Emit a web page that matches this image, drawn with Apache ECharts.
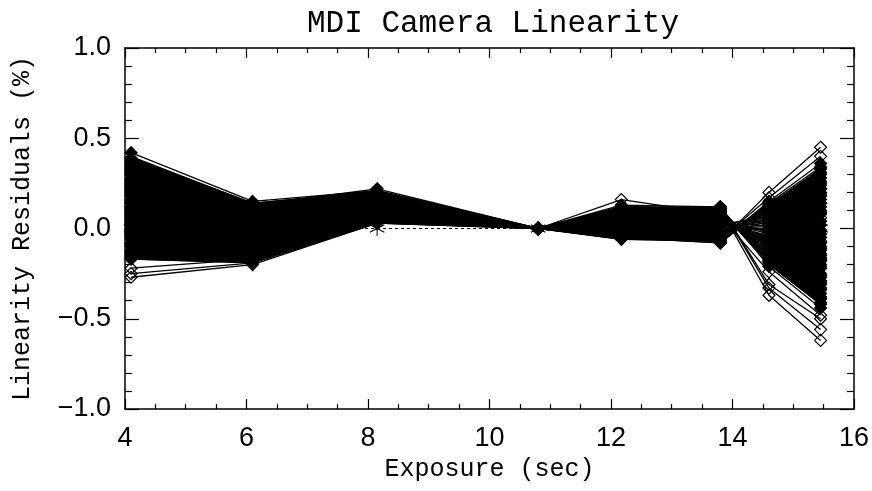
<!DOCTYPE html>
<html>
<head>
<meta charset="utf-8">
<script src="https://cdn.jsdelivr.net/npm/echarts@6/dist/echarts.min.js"></script>
<style>html,body{margin:0;padding:0;background:#fff}#c{width:872px;height:491px}</style>
</head>
<body>
<div id="c"></div>
<script>
// Exposure times (sec) where residuals were measured
const exposures = [4.1, 6.1, 8.15, 10.8, 12.17, 13.8, 14.6, 15.45];

// Residual curves (%) forming the dense bundle, one value per exposure
const coreCurves = [
  [0.42, 0.15, 0.21, 0, 0.05, 0.02, 0.06, 0.12],
  [0.39, 0.14, 0.20, 0, 0.09, 0.07, -0.08, -0.17],
  [0.38, 0.13, 0.22, 0, 0.08, 0.10, -0.15, -0.30],
  [0.37, 0.12, 0.21, 0, 0.01, -0.04, 0.10, 0.22],
  [0.36, 0.12, 0.20, 0, 0.12, 0.11, -0.18, -0.36],
  [0.35, 0.11, 0.19, 0, 0.06, 0.05, -0.05, -0.10],
  [0.34, 0.11, 0.19, 0, 0.03, -0.05, 0.12, 0.25],
  [0.33, 0.11, 0.20, 0, 0.04, 0.02, 0.07, 0.14],
  [0.32, 0.10, 0.20, 0, 0.10, 0.08, -0.10, -0.22],
  [0.31, 0.10, 0.18, 0, 0.11, 0.10, -0.16, -0.34],
  [0.30, 0.09, 0.18, 0, -0.02, -0.06, 0.14, 0.30],
  [0.28, 0.08, 0.19, 0, 0.06, 0.04, -0.02, -0.05],
  [0.27, 0.08, 0.17, 0, -0.01, -0.05, 0.11, 0.26],
  [0.26, 0.07, 0.17, 0, 0.13, 0.12, -0.21, -0.44],
  [0.24, 0.06, 0.16, 0, 0.00, -0.03, 0.09, 0.20],
  [0.23, 0.06, 0.16, 0, 0.08, 0.06, -0.12, -0.26],
  [0.22, 0.05, 0.18, 0, 0.07, 0.06, -0.06, -0.12],
  [0.21, 0.05, 0.17, 0, -0.03, -0.05, 0.13, 0.31],
  [0.20, 0.04, 0.15, 0, 0.04, 0.01, 0.03, 0.08],
  [0.19, 0.04, 0.15, 0, 0.03, 0.00, 0.02, 0.04],
  [0.18, 0.03, 0.14, 0, -0.04, -0.07, 0.15, 0.36],
  [0.16, 0.02, 0.16, 0, 0.09, 0.09, -0.13, -0.27],
  [0.15, 0.02, 0.14, 0, 0.10, 0.09, -0.15, -0.31],
  [0.14, 0.01, 0.13, 0, 0.02, -0.01, 0.05, 0.10],
  [0.12, 0.00, 0.12, 0, 0.11, 0.10, -0.17, -0.38],
  [0.11, 0.00, 0.13, 0, -0.02, -0.05, 0.09, 0.19],
  [0.10, -0.01, 0.14, 0, -0.05, -0.08, 0.13, 0.33],
  [0.09, -0.01, 0.13, 0, 0.11, 0.11, -0.18, -0.39],
  [0.08, -0.02, 0.11, 0, 0.05, 0.03, -0.04, -0.08],
  [0.07, -0.02, 0.12, 0, 0.05, 0.04, -0.05, -0.11],
  [0.06, -0.03, 0.10, 0, 0.08, 0.07, -0.09, -0.20],
  [0.04, -0.04, 0.12, 0, 0.01, -0.02, 0.07, 0.16],
  [0.03, -0.04, 0.10, 0, 0.12, 0.10, -0.20, -0.42],
  [0.02, -0.05, 0.09, 0, -0.03, -0.04, 0.10, 0.24],
  [0.00, -0.06, 0.08, 0, 0.06, 0.05, -0.07, -0.16],
  [-0.01, -0.06, 0.09, 0, 0.00, -0.03, 0.04, 0.09],
  [-0.02, -0.07, 0.10, 0, 0.12, 0.11, -0.19, -0.41],
  [-0.03, -0.08, 0.08, 0, 0.03, 0.03, -0.06, -0.14],
  [-0.04, -0.08, 0.07, 0, 0.03, 0.00, 0.01, 0.02],
  [-0.05, -0.09, 0.07, 0, 0.07, 0.05, -0.10, -0.21],
  [-0.06, -0.10, 0.06, 0, -0.06, -0.07, 0.12, 0.28],
  [-0.08, -0.11, 0.08, 0, 0.09, 0.08, -0.11, -0.25],
  [-0.09, -0.12, 0.06, 0, -0.05, -0.08, 0.14, 0.34],
  [-0.10, -0.13, 0.05, 0, 0.04, 0.02, -0.01, -0.03],
  [-0.12, -0.14, 0.04, 0, 0.00, -0.05, 0.11, 0.22],
  [-0.13, -0.15, 0.05, 0, 0.09, 0.08, -0.12, -0.29],
  [-0.14, -0.16, 0.05, 0, 0.07, 0.06, -0.08, -0.18],
  [-0.15, -0.17, 0.04, 0, 0.02, -0.01, 0.00, -0.01],
  [-0.16, -0.18, 0.04, 0, 0.10, 0.09, -0.14, -0.33],
  [-0.17, -0.19, 0.03, 0, -0.04, -0.06, 0.08, 0.18]
];

// Outlying curves whose open diamonds stand clear of the bundle
const outlierCurves = [
  [-0.22, -0.17, 0.05, 0, 0.02, 0.01, 0.04, 0.06],
  [-0.25, -0.19, 0.04, 0, 0.05, 0.04, -0.03, -0.07],
  [-0.27, -0.20, 0.03, 0, -0.02, -0.03, 0.06, 0.14],
  [0.15, 0.05, 0.17, 0, 0.16, 0.08, -0.09, -0.15],
  [0.05, -0.02, 0.12, 0, -0.05, -0.07, 0.20, 0.45],
  [0.10, 0.01, 0.15, 0, -0.03, -0.06, 0.17, 0.40],
  [0.20, 0.05, 0.17, 0, 0.10, 0.12, -0.31, -0.50],
  [0.25, 0.08, 0.19, 0, 0.12, 0.12, -0.33, -0.56],
  [0.30, 0.10, 0.20, 0, 0.11, 0.11, -0.37, -0.62],
  [0.02, -0.04, 0.10, 0, 0.08, 0.07, -0.24, -0.48]
];

// Dense core of the curve bundle (upper / lower edges), per exposure
const coreUpper = [0.40, 0.14, 0.21, 0, 0.12, 0.11, 0.13, 0.33];
const coreLower = [-0.17, -0.19, 0.03, 0, -0.06, -0.07, -0.20, -0.42];
// the core is continuous over these index ranges (gap through the crossing zone)
const coreSegments = [[0, 5], [6, 7]];

// Reference (ideal) line
const referenceLine = [0, 0, 0, 0, 0, 0, 0, 0];

// Axis ticks
const xTicks = [4, 6, 8, 10, 12, 14, 16];
const yTicks = [-1.0, -0.5, 0.0, 0.5, 1.0];

const asterisk = 'path://M-0.06,1L0.06,1L0.06,-1L-0.06,-1Z M0.836,0.552L0.896,0.448L-0.836,-0.552L-0.896,-0.448Z M0.896,-0.448L0.836,-0.552L-0.896,0.448L-0.836,0.552Z';

const chart = echarts.init(document.getElementById('c'), null, {renderer: 'canvas'});

const series = [];
series.push({
  type: 'custom',
  xAxisIndex: 0, yAxisIndex: 0,
  silent: true,
  z: 1,
  data: [0],
  renderItem: function (params, api) {
    if (params.dataIndex !== 0) return;
    const children = coreSegments.map(function (seg) {
      const pts = [];
      for (let i = seg[0]; i <= seg[1]; i++) pts.push(api.coord([exposures[i], coreUpper[i]]));
      for (let i = seg[1]; i >= seg[0]; i--) pts.push(api.coord([exposures[i], coreLower[i]]));
      return {type: 'polygon', shape: {points: pts}, style: {fill: '#000', stroke: '#000', lineWidth: 1}};
    });
    return {type: 'group', children: children};
  }
});

function curveSeries(c, filled) {
  return {
    type: 'line',
    data: exposures.map(function (x, i) { return [x, c[i]]; }),
    symbol: 'diamond',
    symbolSize: 12,
    showSymbol: true,
    z: 2,
    lineStyle: {color: '#000', width: 1.3},
    itemStyle: {color: filled ? '#000' : 'rgba(255,255,255,0)', borderColor: '#000', borderWidth: 1.2},
    emphasis: {disabled: true},
    silent: true
  };
}
coreCurves.forEach(function (c) { series.push(curveSeries(c, true)); });
outlierCurves.forEach(function (c) { series.push(curveSeries(c, false)); });

series.push({
  type: 'line',
  data: exposures.map(function (x, i) { return [x, referenceLine[i]]; }),
  symbol: asterisk,
  symbolSize: 15,
  z: 3,
  lineStyle: {color: '#000', width: 1.2, type: [3, 3]},
  itemStyle: {color: '#000'},
  emphasis: {disabled: true},
  silent: true
});

const labelFont = {fontFamily: 'Liberation Sans', fontSize: 27, color: '#000'};
const nameFont = {fontFamily: 'Liberation Mono', fontSize: 25, color: '#000'};

function fmt(v) {
  return v.toFixed(1).replace('-', '\u2212');
}

chart.setOption({
  animation: false,
  backgroundColor: '#fff',
  title: {
    text: 'MDI Camera Linearity',
    left: 488, top: 3, textAlign: 'center',
    textStyle: {fontFamily: 'Liberation Mono', fontSize: 31, fontWeight: 'normal', color: '#000'}
  },
  grid: {left: 125, right: 17, top: 48, bottom: 82, containLabel: false},
  xAxis: [{
    type: 'value', min: xTicks[0], max: xTicks[xTicks.length - 1], interval: 2,
    position: 'bottom',
    name: 'Exposure (sec)', nameLocation: 'middle', nameGap: 48, nameTextStyle: nameFont,
    axisLine: {show: true, onZero: false, lineStyle: {color: '#000', width: 1.5}},
    axisTick: {show: true, inside: true, length: 10, lineStyle: {color: '#000', width: 1.2}},
    minorTick: {show: true, splitNumber: 4, length: 5, lineStyle: {color: '#000', width: 1.2}},
    axisLabel: Object.assign({margin: 16, formatter: function (v) { return String(v); }}, labelFont),
    splitLine: {show: false}
  }, {
    type: 'value', min: xTicks[0], max: xTicks[xTicks.length - 1], interval: 2,
    position: 'top',
    axisLine: {show: true, onZero: false, lineStyle: {color: '#000', width: 1.5}},
    axisTick: {show: true, inside: true, length: 10, lineStyle: {color: '#000', width: 1.2}},
    minorTick: {show: true, splitNumber: 4, length: 5, lineStyle: {color: '#000', width: 1.2}},
    axisLabel: {show: false},
    splitLine: {show: false}
  }],
  yAxis: [{
    type: 'value', min: yTicks[0], max: yTicks[yTicks.length - 1], interval: 0.5,
    position: 'left',
    name: 'Linearity Residuals (%)', nameLocation: 'middle', nameGap: 90, nameRotate: 90, nameTextStyle: nameFont,
    axisLine: {show: true, onZero: false, lineStyle: {color: '#000', width: 1.5}},
    axisTick: {show: true, inside: true, length: 14, lineStyle: {color: '#000', width: 1.2}},
    minorTick: {show: true, splitNumber: 5, length: 7, lineStyle: {color: '#000', width: 1.2}},
    axisLabel: Object.assign({margin: 14, formatter: fmt}, labelFont),
    splitLine: {show: false}
  }, {
    type: 'value', min: yTicks[0], max: yTicks[yTicks.length - 1], interval: 0.5,
    position: 'right',
    axisLine: {show: true, onZero: false, lineStyle: {color: '#000', width: 1.5}},
    axisTick: {show: true, inside: true, length: 14, lineStyle: {color: '#000', width: 1.2}},
    minorTick: {show: true, splitNumber: 5, length: 7, lineStyle: {color: '#000', width: 1.2}},
    axisLabel: {show: false},
    splitLine: {show: false}
  }],
  series: series
});
</script>
</body>
</html>
